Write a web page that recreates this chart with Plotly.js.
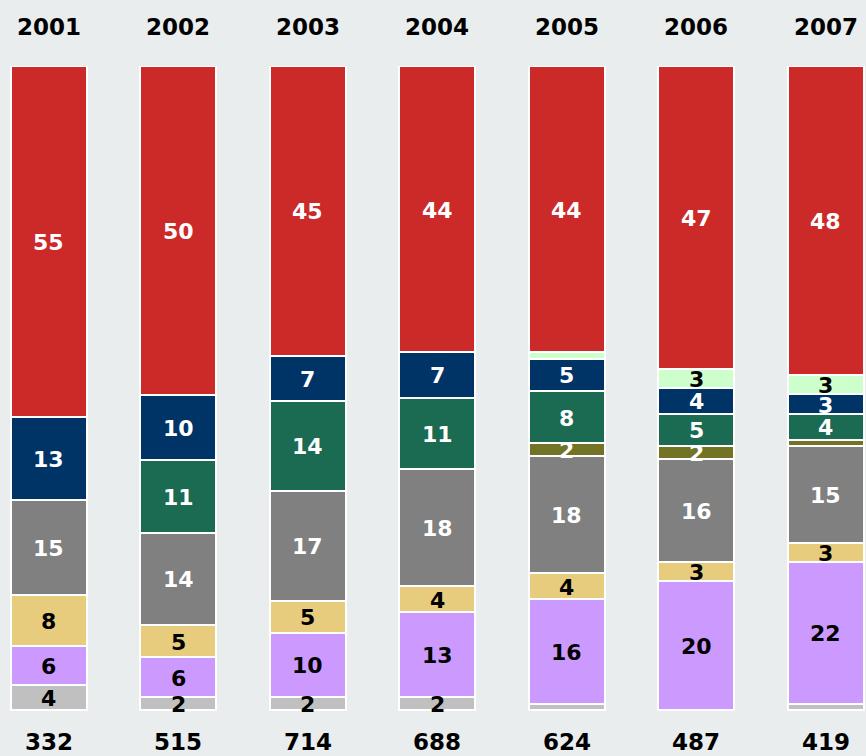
<!DOCTYPE html>
<html>
<head>
<meta charset="utf-8">
<script src="https://cdn.plot.ly/plotly-3.0.1.min.js"></script>
<style>
html,body{margin:0;padding:0;background:#e9eded;}
#chart{width:866px;height:756px;}
</style>
</head>
<body>
<div id="chart"></div>
<script>
const years = ["2001","2002","2003","2004","2005","2006","2007"];
const totals = ["332","515","714","688","624","487","419"];

// segments from bottom to top
const lightGray  = [4, 2, 2, 2, 1, 0, 1];
const lavender   = [6, 6, 10, 13, 16, 20, 22];
const tan        = [8, 5, 5, 4, 4, 3, 3];
const gray       = [15, 14, 17, 18, 18, 16, 15];
const olive      = [0, 0, 0, 0, 2, 2, 1];
const green      = [0, 11, 14, 11, 8, 5, 4];
const navy       = [13, 10, 7, 7, 5, 4, 3];
const lightGreen = [0, 0, 0, 0, 1, 3, 3];
const red        = [55, 50, 45, 44, 44, 47, 48];

const series = [
  {name: "lightGray",  values: lightGray,  color: "#c0c0c0", txt: "#000000"},
  {name: "lavender",   values: lavender,   color: "#cc99ff", txt: "#000000"},
  {name: "tan",        values: tan,        color: "#e8cc7e", txt: "#000000"},
  {name: "gray",       values: gray,       color: "#808080", txt: "#ffffff"},
  {name: "olive",      values: olive,      color: "#737326", txt: "#ffffff"},
  {name: "green",      values: green,      color: "#1a6b52", txt: "#ffffff"},
  {name: "navy",       values: navy,       color: "#003366", txt: "#ffffff"},
  {name: "lightGreen", values: lightGreen, color: "#ccffcc", txt: "#000000"},
  {name: "red",        values: red,        color: "#cc2929", txt: "#ffffff"}
];

const FONT = "DejaVu Sans, Verdana, sans-serif";
const idx = years.map((_, i) => i);

const traces = series.map(s => ({
  type: "bar",
  name: s.name,
  x: idx,
  y: s.values,
  marker: {color: s.color, line: {color: "#ffffff", width: 2}},
  hoverinfo: "skip"
}));

const annotations = [];

// segment labels drawn on top of all bars, at the middle of each (normalised) segment
idx.forEach(i => {
  const sum = series.reduce((a, s) => a + s.values[i], 0);
  let base = 0;
  series.forEach(s => {
    const v = s.values[i];
    const h = v / sum * 100;
    if (v >= 2) {
      annotations.push({
        x: i, y: base + h / 2, xref: "x", yref: "y",
        yshift: -1, text: "<b>" + v + "</b>", showarrow: false,
        font: {family: FONT, size: 22, color: s.txt}
      });
    }
    base += h;
  });
});

idx.forEach(i => {
  annotations.push({
    x: i, y: 100, xref: "x", yref: "y",
    yshift: 39, text: "<b>" + years[i] + "</b>", showarrow: false,
    font: {family: FONT, size: 23, color: "#000000"}
  });
  annotations.push({
    x: i, y: 0, xref: "x", yref: "y",
    yshift: -32, text: "<b>" + totals[i] + "</b>", showarrow: false,
    font: {family: FONT, size: 23, color: "#000000"}
  });
});

const layout = {
  width: 866, height: 756,
  barmode: "stack",
  barnorm: "percent",
  bargap: 0.413,
  showlegend: false,
  paper_bgcolor: "#e9eded",
  plot_bgcolor: "#e9eded",
  margin: {l: 0, r: 0, t: 66, b: 27, pad: 0},
  xaxis: {type: "linear", range: [-0.378, 6.309], showticklabels: false,
          showgrid: false, zeroline: false, showline: false, ticks: ""},
  yaxis: {range: [-2.95, 100], showticklabels: false, showgrid: false,
          zeroline: false, showline: false, ticks: ""},
  annotations: annotations
};

Plotly.newPlot("chart", traces, layout, {displayModeBar: false, staticPlot: true});
</script>
</body>
</html>
